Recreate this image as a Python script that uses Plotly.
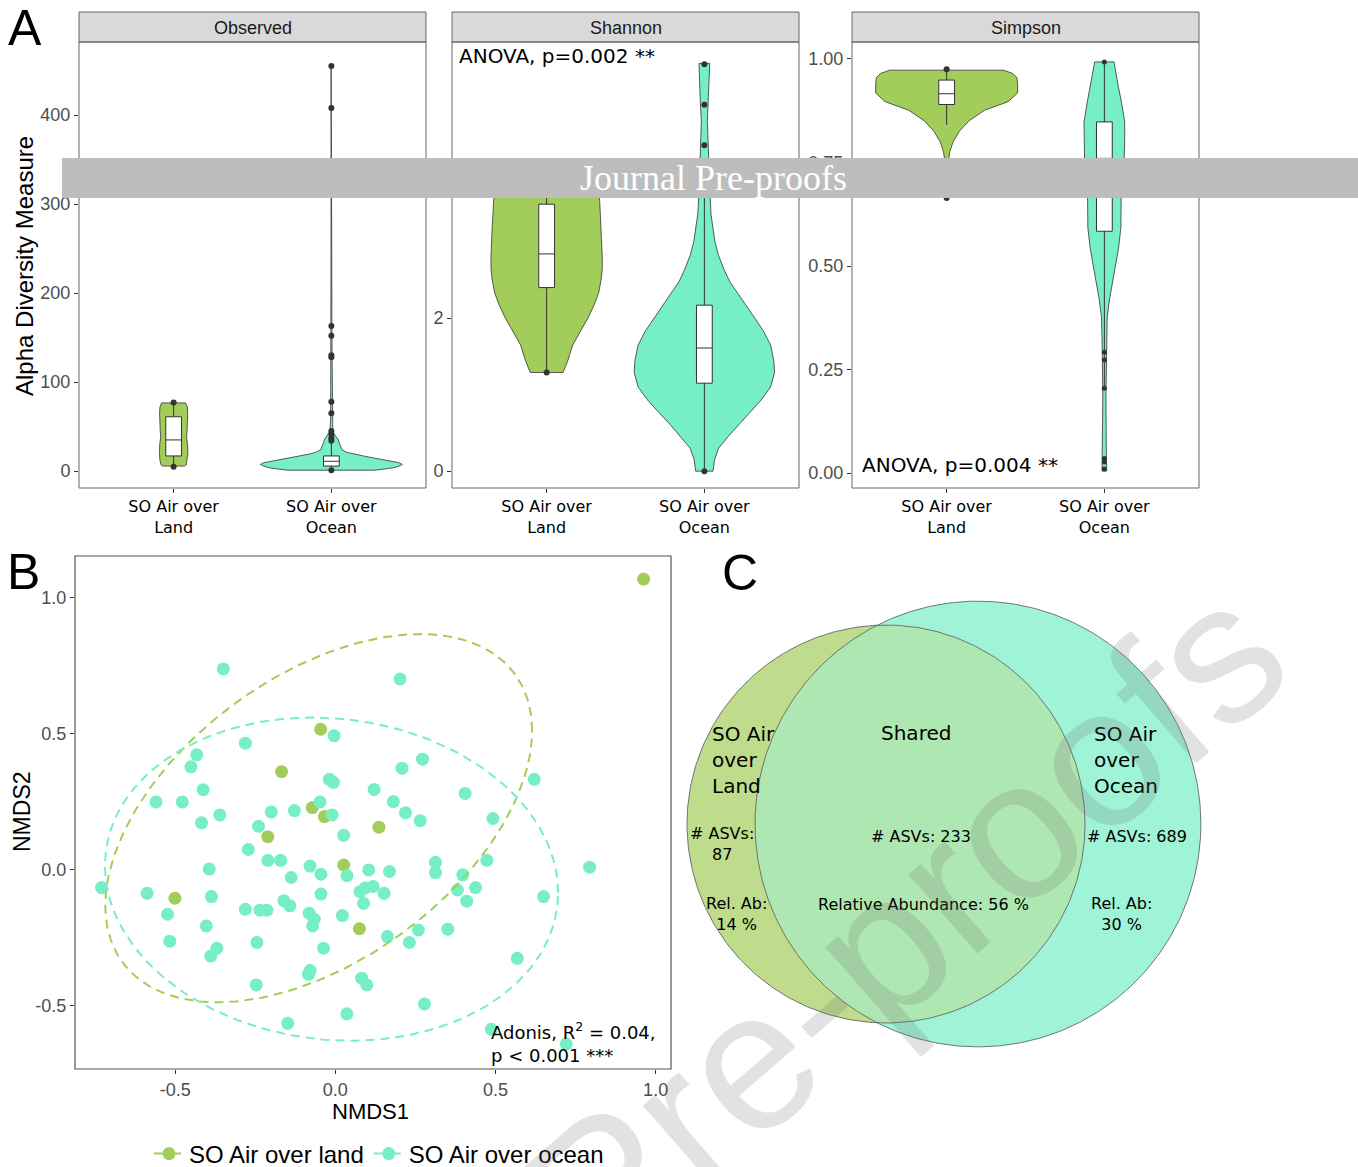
import numpy as np
import plotly.graph_objects as go

W, H = 1358, 1167
GREEN = "#A2CD5A"
TEAL = "#76EEC6"
INK = "#333333"
TICKGREY = "#4d4d4d"
SANS = "Liberation Sans, Arial, sans-serif"
VERD = "DejaVu Sans, Verdana, sans-serif"


def fx(px):
    return px / W


def fy(py):
    return 1 - py / H


# ---------------- Panel A: alpha diversity ----------------
groups = ["SO Air over<br>Land", "SO Air over<br>Ocean"]
metrics = ["Observed", "Shannon", "Simpson"]

# violin profiles: measure value and relative density (1 = widest violin)
obs_land_vals = [5.6, 7, 12, 20, 30, 38, 45, 55, 65, 72, 75, 76.6]
obs_land_dens = [0.151, 0.178, 0.193, 0.2, 0.196, 0.182, 0.189, 0.198, 0.198, 0.193, 0.178, 0.169]
obs_ocean_vals = [1, 2, 3.5, 5.5, 7.5, 9.5, 11, 13, 15, 17, 19, 21, 24, 28, 32, 35, 38, 41, 45,
                  60, 80, 130, 165, 250, 400, 455]
obs_ocean_dens = [0.62, 0.74, 0.86, 0.95, 1.0, 0.95, 0.84, 0.70, 0.58, 0.45, 0.32, 0.22, 0.15,
                  0.125, 0.11, 0.1, 0.075, 0.045, 0.02, 0.01, 0.009, 0.008, 0.007, 0.005, 0.004, 0.004]

sha_land_vals = [1.29, 1.45, 1.65, 1.85, 2.01, 2.17, 2.33, 2.5, 2.64, 2.8, 3.0, 3.2, 3.36, 3.54,
                 3.75, 3.9, 4.0]
sha_land_dens = [0.231, 0.3, 0.367, 0.489, 0.587, 0.667, 0.733, 0.767, 0.784, 0.784, 0.778,
                 0.767, 0.756, 0.747, 0.711, 0.6, 0.4]
sha_ocean_vals = [0.0, 0.15, 0.3, 0.45, 0.61, 0.77, 0.93, 1.1, 1.29, 1.45, 1.65, 1.83, 2.0, 2.17,
                  2.33, 2.48, 2.64, 2.82, 3.0, 3.36, 3.6, 3.9, 4.22, 4.58, 4.81, 5.17, 5.33]
sha_ocean_dens = [0.122, 0.144, 0.2, 0.333, 0.482, 0.644, 0.8, 0.933, 0.989, 0.978, 0.933, 0.833,
                  0.711, 0.589, 0.467, 0.356, 0.276, 0.2, 0.149, 0.093, 0.078, 0.067, 0.056,
                  0.042, 0.056, 0.071, 0.076]

sim_land_vals = [0.664, 0.70, 0.75, 0.776, 0.80, 0.826, 0.851, 0.876, 0.897, 0.918, 0.9425,
                 0.955, 0.965, 0.973]
sim_land_dens = [0.011, 0.013, 0.022, 0.044, 0.091, 0.182, 0.318, 0.533, 0.867, 1.0, 1.0, 0.989,
                 0.933, 0.8]
sim_ocean_vals = [0.005, 0.06, 0.185, 0.31, 0.376, 0.418, 0.476, 0.543, 0.593, 0.659, 0.75, 0.81,
                  0.848, 0.893, 0.934, 0.97, 0.993]
sim_ocean_dens = [0.033, 0.027, 0.022, 0.031, 0.04, 0.071, 0.129, 0.2, 0.233, 0.236, 0.278,
                  0.287, 0.287, 0.244, 0.196, 0.156, 0.136]

# box statistics: lower whisker, q1, median, q3, upper whisker
obs_land_box = [5, 17, 35, 61, 77]
obs_ocean_box = [1, 5.6, 11, 17, 34]
sha_land_box = [1.29, 2.40, 2.84, 3.49, 4.0]
sha_ocean_box = [0.0, 1.15, 1.61, 2.17, 3.7]
sim_land_box = [0.841, 0.89, 0.916, 0.949, 0.975]
sim_ocean_box = [0.205, 0.584, 0.76, 0.848, 0.993]

# individual samples shown as dots
obs_land_pts = [77, 5]
obs_ocean_pts = [455, 408, 163, 152, 130, 128, 78, 65, 45, 41, 37, 34, 1]
sha_land_pts = [1.29]
sha_ocean_pts = [5.32, 4.79, 4.26, 0.0]
sim_land_pts = [0.975, 0.664]
sim_ocean_pts = [0.993, 0.292, 0.273, 0.205, 0.035, 0.027, 0.01]

anova_labels = ["", "ANOVA, p=0.002 **", "ANOVA, p=0.004 **"]

# ---------------- Panel B: NMDS ordination ----------------
land_nmds1 = [-0.046, -0.168, -0.072, -0.034, -0.211, 0.026, 0.136, -0.501, 0.075, 0.9625]
land_nmds2 = [0.517, 0.361, 0.229, 0.196, 0.122, 0.018, 0.157, -0.104, -0.216, 1.069]
ocean_nmds1 = [-0.35, 0.202, -0.004, -0.281, -0.433, -0.451, 0.272, 0.208, -0.019, -0.006, 0.621,
               -0.413, 0.121, 0.405, -0.56, -0.478, -0.048, 0.181, -0.2, -0.128, -0.361, -0.01,
               0.219, 0.265, 0.492, -0.418, -0.24, 0.026, -0.272, -0.211, -0.171, 0.3125, 0.473,
               -0.079, 0.794, -0.394, 0.104, 0.169, 0.3125, 0.398, -0.045, 0.036, -0.138, 0.118,
               -0.73, 0.093, 0.4375, 0.381, 0.077, -0.588, 0.152, -0.045, -0.387, 0.65, -0.161,
               0.41, 0.088, -0.142, -0.281, -0.235, -0.214, -0.082, -0.524, 0.022, -0.066, -0.071,
               -0.403, 0.351, 0.259, 0.1625, -0.517, -0.245, 0.231, -0.37, -0.037, -0.389, 0.568,
               -0.079, -0.084, 0.082, 0.098, -0.247, 0.278, 0.036, -0.149, 0.487, 0.721]
ocean_nmds2 = [0.739, 0.702, 0.493, 0.466, 0.423, 0.379, 0.407, 0.374, 0.333, 0.322, 0.333,
               0.295, 0.296, 0.281, 0.25, 0.25, 0.25, 0.251, 0.213, 0.218, 0.202, 0.202, 0.21,
               0.181, 0.189, 0.173, 0.16, 0.127, 0.075, 0.035, 0.035, 0.028, 0.035, 0.014, 0.01,
               0.003, 0.0, -0.006, -0.01, -0.018, -0.016, -0.021, -0.028, -0.061, -0.065, -0.067,
               -0.065, -0.074, -0.08, -0.086, -0.086, -0.089, -0.098, -0.098, -0.113, -0.115,
               -0.123, -0.132, -0.145, -0.148, -0.148, -0.159, -0.163, -0.168, -0.181, -0.206,
               -0.206, -0.218, -0.221, -0.245, -0.262, -0.267, -0.267, -0.288, -0.288, -0.317,
               -0.325, -0.37, -0.384, -0.398, -0.423, -0.423, -0.493, -0.529, -0.564, -0.586,
               -0.64]

# 95% confidence ellipses: centre and shape matrix
land_ell_center = [-0.052, 0.19]
land_ell_shape = [[0.444, 0.214], [0.214, 0.458]]
ocean_ell_center = [-0.012, -0.034]
ocean_ell_shape = [[0.5006, -0.035], [-0.035, 0.353]]

legend_names = ["SO Air over land", "SO Air over ocean"]

# ---------------- Panel C: shared ASVs ----------------
venn_centers_x = [0.0, 0.462]
venn_radii = [1.0, 1.12]
asv_counts = [87, 233, 689]          # land only, shared, ocean only
rel_abundance = [14, 56, 30]         # percent

fig = go.Figure()


def violin_outline(pos, vals, dens, half=0.45):
    v = np.asarray(vals, float)
    d = np.asarray(dens, float) * half
    xs = np.concatenate([pos - d, (pos + d)[::-1], [pos - d[0]]])
    ys = np.concatenate([v, v[::-1], [v[0]]])
    return xs, ys


facets = [
    dict(xa="x", ya="y", vals=[obs_land_vals, obs_ocean_vals], dens=[obs_land_dens, obs_ocean_dens],
         box=[obs_land_box, obs_ocean_box], pts=[obs_land_pts, obs_ocean_pts], dot=[6, 6]),
    dict(xa="x2", ya="y2", vals=[sha_land_vals, sha_ocean_vals], dens=[sha_land_dens, sha_ocean_dens],
         box=[sha_land_box, sha_ocean_box], pts=[sha_land_pts, sha_ocean_pts], dot=[6, 6]),
    dict(xa="x3", ya="y3", vals=[sim_land_vals, sim_ocean_vals], dens=[sim_land_dens, sim_ocean_dens],
         box=[sim_land_box, sim_ocean_box], pts=[sim_land_pts, sim_ocean_pts], dot=[6, 5]),
]
fills = [GREEN, TEAL]

for f in facets:
    for g in range(2):
        pos = g + 1
        xs, ys = violin_outline(pos, f["vals"][g], f["dens"][g])
        fig.add_trace(go.Scatter(x=xs, y=ys, mode="lines", fill="toself", fillcolor=fills[g],
                                 line=dict(color=INK, width=0.8), xaxis=f["xa"], yaxis=f["ya"],
                                 showlegend=False, hoverinfo="skip", zorder=0))
        lo, q1, med, q3, hi = f["box"][g]
        fig.add_trace(go.Box(x=[pos], lowerfence=[lo], q1=[q1], median=[med], q3=[q3],
                             upperfence=[hi], orientation="v", width=0.1, fillcolor="white",
                             whiskerwidth=0, line=dict(color=INK, width=1), boxpoints=False,
                             xaxis=f["xa"], yaxis=f["ya"], showlegend=False, hoverinfo="skip",
                             zorder=1))
        pts = f["pts"][g]
        fig.add_trace(go.Scatter(x=[pos] * len(pts), y=pts, mode="markers",
                                 marker=dict(color=INK, size=f["dot"][g]),
                                 xaxis=f["xa"], yaxis=f["ya"], showlegend=False, hoverinfo="skip",
                                 zorder=2))

# ---- Panel B traces
fig.add_trace(go.Scatter(x=land_nmds1, y=land_nmds2, mode="markers",
                         marker=dict(color=GREEN, size=13, line=dict(width=0)),
                         xaxis="x4", yaxis="y4", showlegend=False, hoverinfo="skip"))
fig.add_trace(go.Scatter(x=ocean_nmds1, y=ocean_nmds2, mode="markers",
                         marker=dict(color=TEAL, size=13, line=dict(width=0)),
                         xaxis="x4", yaxis="y4", showlegend=False, hoverinfo="skip"))


def ellipse(center, shape, n=240):
    t = np.linspace(0, 2 * np.pi, n)
    L = np.linalg.cholesky(np.array(shape))
    p = L @ np.vstack([np.cos(t), np.sin(t)])
    return center[0] + p[0], center[1] + p[1]


for c, s, col in [(land_ell_center, land_ell_shape, GREEN), (ocean_ell_center, ocean_ell_shape, TEAL)]:
    ex, ey = ellipse(c, s)
    fig.add_trace(go.Scatter(x=ex, y=ey, mode="lines", line=dict(color=col, width=2, dash="9px,6px"),
                             xaxis="x4", yaxis="y4", showlegend=False, hoverinfo="skip"))

for name, col in zip(legend_names, [GREEN, TEAL]):
    fig.add_trace(go.Scatter(x=[None], y=[None], mode="lines+markers", name=name,
                             marker=dict(color=col, size=13), line=dict(color=col, width=2, dash="dash"),
                             xaxis="x4", yaxis="y4", showlegend=True))

# ---- Panel C traces
r1, r2 = venn_radii
c1, c2 = venn_centers_x
d = c2 - c1
xi = (d ** 2 + r1 ** 2 - r2 ** 2) / (2 * d)
yi = np.sqrt(r1 ** 2 - xi ** 2)
a1 = np.arctan2(yi, xi - c1)
a2 = np.arctan2(yi, xi - c2)


def arc(cx, r, t0, t1, n=200):
    t = np.linspace(t0, t1, n)
    return cx + r * np.cos(t), r * np.sin(t)


def region(parts):
    xs = np.concatenate([p[0] for p in parts])
    ys = np.concatenate([p[1] for p in parts])
    return np.append(xs, xs[0]), np.append(ys, ys[0])


def hex_rgb(hexcol):
    h = hexcol.lstrip("#")
    return tuple(int(h[i:i + 2], 16) for i in (0, 2, 4))


g_rgb = hex_rgb(GREEN)
t_rgb = hex_rgb(TEAL)
mix_rgb = tuple((a + b) / 2 for a, b in zip(g_rgb, t_rgb))
alpha = 0.7
col_land = "rgba(%d,%d,%d,%.2f)" % (*g_rgb, alpha)
col_ocean = "rgba(%d,%d,%d,%.2f)" % (*t_rgb, alpha)
col_shared = "rgba(%d,%d,%d,%.2f)" % (*mix_rgb, alpha)

land_only = region([arc(c1, r1, a1, 2 * np.pi - a1), arc(c2, r2, 2 * np.pi - a2, a2)])
shared = region([arc(c1, r1, -a1, a1), arc(c2, r2, a2, 2 * np.pi - a2)])
ocean_only = region([arc(c2, r2, a2, -a2), arc(c1, r1, -a1, a1)])

for (rx, ry), col in [(land_only, col_land), (shared, col_shared), (ocean_only, col_ocean)]:
    fig.add_trace(go.Scatter(x=rx, y=ry, mode="lines", fill="toself", fillcolor=col,
                             line=dict(width=0, color=col), xaxis="x5", yaxis="y5",
                             showlegend=False, hoverinfo="skip"))
for cx, r in zip(venn_centers_x, venn_radii):
    ox, oy = arc(cx, r, 0, 2 * np.pi, 400)
    fig.add_trace(go.Scatter(x=ox, y=oy, mode="lines", line=dict(color="#555555", width=0.8),
                             xaxis="x5", yaxis="y5", showlegend=False, hoverinfo="skip"))

# ---------------- Layout ----------------
layout = dict(
    width=W, height=H, autosize=False,
    margin=dict(l=0, r=0, t=0, b=0, autoexpand=False),
    paper_bgcolor="white", plot_bgcolor="rgba(0,0,0,0)", showlegend=True,
    legend=dict(orientation="h", x=fx(149), xanchor="left", y=fy(1154), yanchor="middle",
                font=dict(family=SANS, size=24, color="black"), bgcolor="rgba(0,0,0,0)",
                itemwidth=30),
)

a_xdom = [(79, 426), (452, 799), (852, 1199)]
a_yrange = [[-19, 482], [-0.22, 5.61], [-0.036, 1.041]]
a_ticks = [[0, 100, 200, 300, 400], [0, 2, 4], [0, 0.25, 0.5, 0.75, 1.0]]
a_fmt = ["d", "d", ".2f"]
for i in range(3):
    sx = "" if i == 0 else str(i + 1)
    layout["xaxis" + sx] = dict(
        domain=[fx(a_xdom[i][0]), fx(a_xdom[i][1])], anchor="y" + sx, type="linear",
        range=[0.4, 2.6], tickvals=[1, 2], ticktext=groups, ticks="outside", ticklen=4,
        tickcolor=INK, showline=False, showgrid=False, zeroline=False,
        tickfont=dict(family=VERD, size=16, color="black"))
    layout["yaxis" + sx] = dict(
        domain=[fy(488), fy(42)], anchor="x" + sx, range=a_yrange[i], tickvals=a_ticks[i],
        tickformat=a_fmt[i], ticks="outside", ticklen=4, tickcolor=INK, showline=False,
        showgrid=False, zeroline=False, tickfont=dict(family=SANS, size=18, color=TICKGREY))

layout["xaxis4"] = dict(
    domain=[fx(75), fx(671)], anchor="y4", range=[-0.813, 1.048],
    tickvals=[-0.5, 0, 0.5, 1.0], ticktext=["-0.5", "0.0", "0.5", "1.0"], ticks="outside",
    ticklen=4, tickcolor=INK, showline=False, showgrid=False, zeroline=False,
    tickfont=dict(family=SANS, size=18, color=TICKGREY))
layout["yaxis4"] = dict(
    domain=[fy(1069), fy(556)], anchor="x4", range=[-0.732, 1.154],
    tickvals=[-0.5, 0, 0.5, 1.0], ticktext=["-0.5", "0.0", "0.5", "1.0"], ticks="outside",
    ticklen=4, tickcolor=INK, showline=False, showgrid=False, zeroline=False,
    tickfont=dict(family=SANS, size=18, color=TICKGREY))
layout["xaxis5"] = dict(domain=[fx(680), fx(1220)], anchor="y5", range=[-1.035, 1.678], visible=False)
layout["yaxis5"] = dict(domain=[fy(1060), fy(590)], anchor="x5", range=[-1.186, 1.176], visible=False)

shapes = []
annotations = []
# panel frames, drawn on the axis domains
for i in range(3):
    sx = "" if i == 0 else str(i + 1)
    shapes.append(dict(type="rect", xref="x%s domain" % sx, yref="y%s domain" % sx,
                       x0=0, x1=1, y0=0, y1=1, line=dict(color="#666666", width=1),
                       fillcolor="rgba(0,0,0,0)", layer="above"))
shapes.append(dict(type="rect", xref="x4 domain", yref="y4 domain", x0=0, x1=1, y0=0, y1=1,
                   line=dict(color="#555555", width=1.2), fillcolor="rgba(0,0,0,0)",
                   layer="above"))

for i, (x0, x1) in enumerate(a_xdom):
    shapes.append(dict(type="rect", xref="paper", yref="paper", x0=fx(x0), x1=fx(x1),
                       y0=fy(42), y1=fy(12), fillcolor="#d9d9d9",
                       line=dict(color="#666666", width=1), layer="below"))
    annotations.append(dict(text=metrics[i], xref="paper", yref="paper", x=fx((x0 + x1) / 2),
                            y=fy(28), xanchor="center", yanchor="middle", showarrow=False,
                            font=dict(family=SANS, size=18, color="#1a1a1a")))

annotations += [
    dict(text=anova_labels[1], xref="paper", yref="paper", x=fx(457), y=fy(56), xanchor="left",
         yanchor="middle", showarrow=False, font=dict(family=VERD, size=20, color="black")),
    dict(text=anova_labels[2], xref="paper", yref="paper", x=fx(860), y=fy(465), xanchor="left",
         yanchor="middle", showarrow=False, font=dict(family=VERD, size=20, color="black")),
    dict(text="Alpha Diversity Measure", xref="paper", yref="paper", x=fx(24), y=fy(266),
         textangle=-90, xanchor="center", yanchor="middle", showarrow=False,
         font=dict(family=SANS, size=24, color="black")),
    dict(text="NMDS2", xref="paper", yref="paper", x=fx(22), y=fy(812), textangle=-90,
         xanchor="center", yanchor="middle", showarrow=False,
         font=dict(family=SANS, size=23, color="black")),
    dict(text="NMDS1", xref="paper", yref="paper", x=fx(371), y=fy(1111), xanchor="center",
         yanchor="middle", showarrow=False, font=dict(family=SANS, size=22, color="black")),
    dict(text="Adonis, R<sup>2</sup> = 0.04,<br>p < 0.001 ***", xref="paper", yref="paper",
         x=fx(489), y=fy(1042), xanchor="left", yanchor="middle", align="left", showarrow=False,
         font=dict(family=VERD, size=18, color="black")),
]
for letter, (lx, ly) in zip("ABC", [(25, 28), (23, 572), (740, 573)]):
    annotations.append(dict(text=letter, xref="paper", yref="paper", x=fx(lx), y=fy(ly),
                            xanchor="center", yanchor="middle", showarrow=False,
                            font=dict(family=SANS, size=50, color="black")))

# Venn labels (axis-5 coordinates)
venn_text = [
    ("SO Air<br>over<br>Land", -0.884, 0.322, "left", 20),
    ("Shared", 0.151, 0.457, "center", 20),
    ("SO Air<br>over<br>Ocean", 1.035, 0.322, "left", 20),
    ("# ASVs:<br>%d" % asv_counts[0], -0.824, -0.098, "center", 16),
    ("# ASVs: %d" % asv_counts[1], 0.176, -0.065, "center", 16),
    ("# ASVs: %d" % asv_counts[2], 1.261, -0.065, "center", 16),
    ("Rel. Ab:<br>%d %%" % rel_abundance[0], -0.749, -0.452, "center", 16),
    ("Relative Abundance: %d %%" % rel_abundance[1], 0.186, -0.407, "center", 16),
    ("Rel. Ab:<br>%d %%" % rel_abundance[2], 1.181, -0.452, "center", 16),
]
for txt, x, y, anc, sz in venn_text:
    annotations.append(dict(text=txt, xref="x5", yref="y5", x=x, y=y, xanchor=anc,
                            yanchor="middle", align=anc, showarrow=False,
                            font=dict(family=VERD, size=sz, color="black")))

# pre-proof banner and diagonal stamp
shapes.append(dict(type="rect", xref="paper", yref="paper", x0=fx(62), x1=1.0, y0=fy(198),
                   y1=fy(158), fillcolor="#bdbdbd", line=dict(width=0), layer="above"))
annotations.append(dict(text="Journal Pre-proofs", xref="paper", yref="paper", x=fx(713),
                        y=fy(178), xanchor="center", yanchor="middle", showarrow=False,
                        font=dict(family="Liberation Serif, Times New Roman, serif", size=36,
                                  color="white")))
annotations.append(dict(text="Pre-proofs", xref="paper", yref="paper", x=fx(905), y=fy(925),
                        xanchor="center", yanchor="middle", textangle=-41, showarrow=False,
                        font=dict(family=SANS, size=198, color="rgba(110,110,110,0.2)")))

layout["shapes"] = shapes
layout["annotations"] = annotations
fig.update_layout(**layout)
fig.write_html("out.html")
